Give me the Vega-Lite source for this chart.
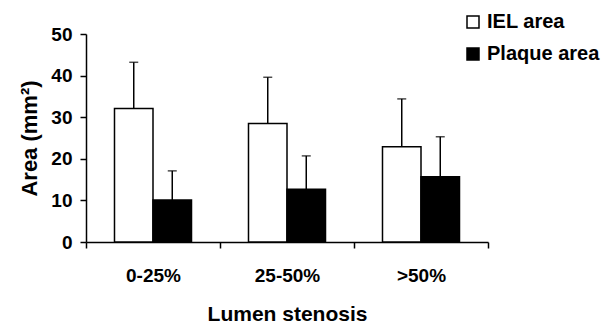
{
  "$schema": "https://vega.github.io/schema/vega-lite/v6.json",
  "width": 402,
  "height": 208,
  "autosize": "none",
  "padding": {"left": 86, "top": 34, "right": 116, "bottom": 85},
  "background": "white",
  "config": {
    "view": {"stroke": null},
    "font": "Liberation Sans",
    "axis": {"grid": false, "domainColor": "black", "tickColor": "black", "labelColor": "black", "titleColor": "black", "labelFont": "Liberation Sans", "titleFont": "Liberation Sans", "labelFontWeight": "bold", "titleFontWeight": "bold", "domainWidth": 1.5, "tickWidth": 1.5}
  },
  "data": {
    "values": [
      {"group": "0-25%", "series": "IEL area", "value": 32.1, "upper": 43.2},
      {"group": "0-25%", "series": "Plaque area", "value": 10.1, "upper": 17.1},
      {"group": "25-50%", "series": "IEL area", "value": 28.5, "upper": 39.6},
      {"group": "25-50%", "series": "Plaque area", "value": 12.7, "upper": 20.7},
      {"group": ">50%", "series": "IEL area", "value": 22.9, "upper": 34.4},
      {"group": ">50%", "series": "Plaque area", "value": 15.7, "upper": 25.3}
    ]
  },
  "encoding": {
    "x": {
      "field": "group", "type": "nominal", "sort": ["0-25%", "25-50%", ">50%"],
      "scale": {"paddingInner": 0, "paddingOuter": 0},
      "axis": {"title": "Lumen stenosis", "labelAngle": 0, "labelFontSize": 19, "titleFontSize": 21, "tickBand": "extent", "tickSize": 6, "labelPadding": 18, "titlePadding": 18}
    },
    "xOffset": {"field": "series", "type": "nominal", "scale": {"paddingInner": 0, "paddingOuter": 0.74}}
  },
  "layer": [
    {
      "mark": {"type": "bar", "stroke": "black", "strokeWidth": 1.5},
      "encoding": {
        "y": {"field": "value", "type": "quantitative", "scale": {"domain": [0, 50]},
          "axis": {"title": "Area (mm²)", "values": [0, 10, 20, 30, 40, 50], "labelFontSize": 19, "titleFontSize": 22, "tickSize": 6, "labelPadding": 8, "titlePadding": 9}},
        "fill": {"field": "series", "type": "nominal", "scale": {"domain": ["IEL area", "Plaque area"], "range": ["white", "black"]},
          "legend": {"title": null, "orient": "none", "legendX": 377, "legendY": -22, "symbolType": "square", "symbolSize": 144, "symbolStrokeColor": "black", "symbolStrokeWidth": 1.5, "labelFontSize": 20, "labelFontWeight": "bold", "labelColor": "black", "labelFont": "Liberation Sans", "rowPadding": 12, "labelOffset": 4}}
      }
    },
    {
      "mark": {"type": "rule", "color": "black", "strokeWidth": 1.5},
      "encoding": {
        "y": {"field": "value", "type": "quantitative"},
        "y2": {"field": "upper"}
      }
    },
    {
      "mark": {"type": "tick", "color": "black", "thickness": 1.5, "size": 9},
      "encoding": {
        "y": {"field": "upper", "type": "quantitative"}
      }
    }
  ]
}
